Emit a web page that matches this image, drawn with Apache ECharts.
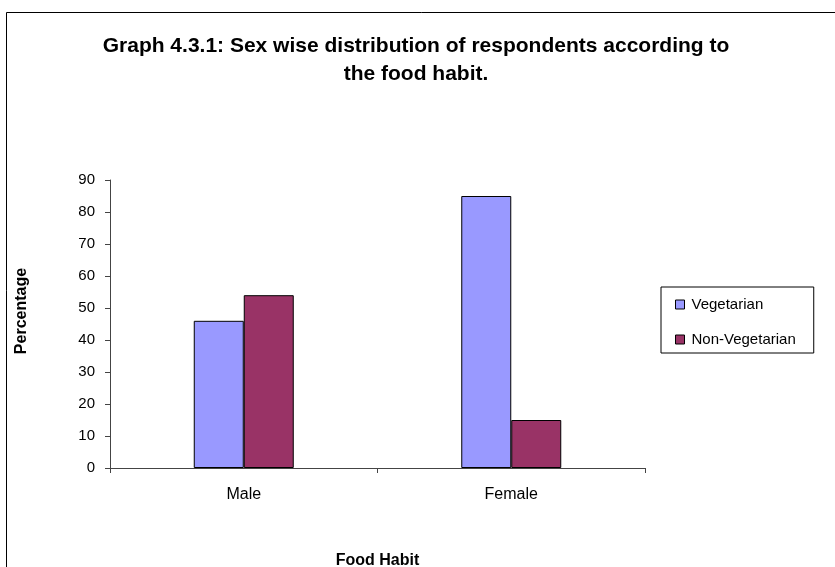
<!DOCTYPE html>
<html><head><meta charset="utf-8">
<script src="https://cdn.jsdelivr.net/npm/echarts@6/dist/echarts.min.js"></script>
<style>html,body{margin:0;padding:0;background:#fff}#c{width:835px;height:567px}</style>
</head><body><div id="c"></div>
<script>
const categories = ['Male', 'Female'];
const vegetarian = [46, 85];
const nonVegetarian = [54, 15];
const yTicks = [0, 10, 20, 30, 40, 50, 60, 70, 80, 90];

const chart = echarts.init(document.getElementById('c'), null, {renderer: 'canvas'});
const font = 'Arial, "Liberation Sans", sans-serif';
chart.setOption({
  animation: false,
  backgroundColor: '#fff',
  graphic: [
    {type: 'rect', shape: {x: 6.5, y: 12.5, width: 840, height: 600}, style: {fill: 'none', stroke: '#000', lineWidth: 1}}
  ],
  title: {
    text: 'Graph 4.3.1: Sex wise distribution of respondents according to\nthe food habit.',
    left: 411, top: 27, textAlign: 'center',
    textStyle: {fontFamily: font, fontSize: 21, fontWeight: 'bold', color: '#000', lineHeight: 28}
  },
  legend: {
    orient: 'vertical', left: 661, top: 287,
    padding: [10, 18, 6, 14], itemGap: 20,
    borderColor: '#000', borderWidth: 1,
    itemWidth: 9, itemHeight: 9, icon: 'rect',
    itemStyle: {borderColor: '#000', borderWidth: 1},
    textStyle: {fontFamily: font, fontSize: 15, color: '#000', padding: [0, 0, 0, 2]},
    data: ['Vegetarian', 'Non-Vegetarian']
  },
  grid: {left: 110, right: 190, top: 180, bottom: 99, outerBoundsMode: 'none', containLabel: false},
  xAxis: {
    type: 'category', data: categories,
    name: 'Food Habit', nameLocation: 'middle', nameGap: 85,
    nameTextStyle: {fontFamily: font, fontSize: 16, fontWeight: 'bold', color: '#000'},
    axisLine: {lineStyle: {color: '#444', width: 1}},
    axisTick: {show: true, length: 5, lineStyle: {color: '#444'}},
    axisLabel: {fontFamily: font, fontSize: 16, color: '#000', margin: 19}
  },
  yAxis: {
    type: 'value', min: 0, max: 90, interval: 10,
    name: 'Percentage', nameLocation: 'middle', nameGap: 80, nameRotate: 90,
    nameTextStyle: {fontFamily: font, fontSize: 16, fontWeight: 'bold', color: '#000', padding: [0, 0, 0, 26]},
    axisLine: {show: true, lineStyle: {color: '#444', width: 1}},
    axisTick: {show: true, length: 5, lineStyle: {color: '#444'}},
    splitLine: {show: false},
    axisLabel: {fontFamily: font, fontSize: 15, color: '#000', margin: 15,
      formatter: v => yTicks.includes(v) ? String(v) : ''}
  },
  series: [
    {name: 'Vegetarian', type: 'bar', data: vegetarian, barWidth: 50, barGap: '0%',
     itemStyle: {color: '#9999FF', borderColor: '#000', borderWidth: 1}},
    {name: 'Non-Vegetarian', type: 'bar', data: nonVegetarian, barWidth: 50, barGap: '0%',
     itemStyle: {color: '#993366', borderColor: '#000', borderWidth: 1}}
  ]
});
</script></body></html>
